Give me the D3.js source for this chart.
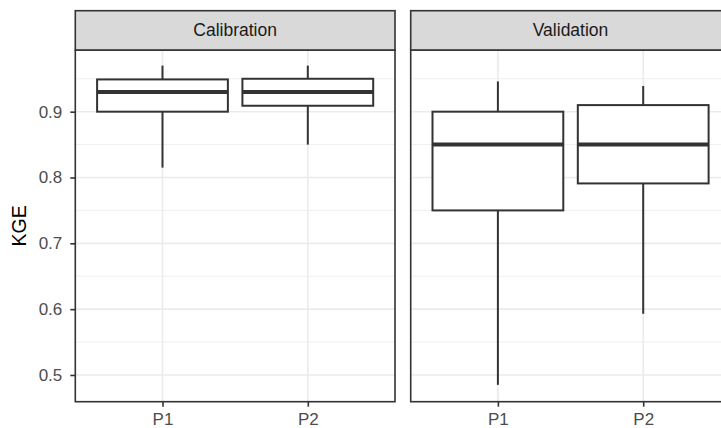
<!DOCTYPE html>
<html><head><meta charset="utf-8">
<script src="https://cdn.jsdelivr.net/npm/d3@7"></script>
<style>body{margin:0;background:#fff}svg{display:block;font-family:"Liberation Sans",Arial,sans-serif}</style>
</head><body>
<svg id="c" width="721" height="428"></svg>
<script>
const facets = ["Calibration", "Validation"];
const groups = ["P1", "P2"];
// [whiskerLow, q1, median, q3, whiskerHigh] per group
const calibrationStats = [[0.815, 0.900, 0.930, 0.949, 0.970], [0.850, 0.909, 0.930, 0.950, 0.970]];
const validationStats  = [[0.485, 0.750, 0.850, 0.900, 0.946], [0.593, 0.791, 0.850, 0.910, 0.939]];
const yTicks = [0.5, 0.6, 0.7, 0.8, 0.9];
const yMinor = [0.55, 0.65, 0.75, 0.85, 0.95];
const yTitle = "KGE";

(function () {
const statsByFacet = [calibrationStats, validationStats];
const svg = d3.select("#c");
const pTop = 50, pBottom = 401.7, stripTop = 10.7;
const panels = [[75.3, 395], [410.7, 730.4]];
const y = d3.scaleLinear().domain([0.4594, 0.9937]).range([pBottom, pTop]);
const dark = "#333333";
const FONT = "Liberation Sans, Arial, sans-serif";

facets.forEach((f, i) => {
  const [x0, x1] = panels[i];
  const xc = d3.scaleLinear().domain([0.4, 2.6]).range([x0, x1]);
  const unit = (x1 - x0) / 2.2;
  const g = svg.append("g");
  g.append("rect").attr("x", x0).attr("y", pTop).attr("width", x1 - x0).attr("height", pBottom - pTop).attr("fill", "#fff");
  g.selectAll(".mn").data(yMinor).enter().append("line")
    .attr("x1", x0).attr("x2", x1).attr("y1", d => y(d)).attr("y2", d => y(d))
    .attr("stroke", "#EBEBEB").attr("stroke-width", 0.8);
  g.selectAll(".mj").data(yTicks).enter().append("line")
    .attr("x1", x0).attr("x2", x1).attr("y1", d => y(d)).attr("y2", d => y(d))
    .attr("stroke", "#EBEBEB").attr("stroke-width", 1.6);
  g.selectAll(".vx").data(groups).enter().append("line")
    .attr("x1", (d, j) => xc(j + 1)).attr("x2", (d, j) => xc(j + 1)).attr("y1", pTop).attr("y2", pBottom)
    .attr("stroke", "#EBEBEB").attr("stroke-width", 1.6);
  const st = statsByFacet[i];
  groups.forEach((gname, j) => {
    const [lo, q1, med, q3, hi] = st[j];
    const cx = xc(j + 1), hw = 0.45 * unit;
    g.append("line").attr("x1", cx).attr("x2", cx).attr("y1", y(hi)).attr("y2", y(q3)).attr("stroke", dark).attr("stroke-width", 2);
    g.append("line").attr("x1", cx).attr("x2", cx).attr("y1", y(q1)).attr("y2", y(lo)).attr("stroke", dark).attr("stroke-width", 2);
    g.append("rect").attr("x", cx - hw).attr("y", y(q3)).attr("width", 2 * hw).attr("height", y(q1) - y(q3))
      .attr("fill", "#fff").attr("stroke", dark).attr("stroke-width", 2);
    g.append("line").attr("x1", cx - hw).attr("x2", cx + hw).attr("y1", y(med)).attr("y2", y(med)).attr("stroke", dark).attr("stroke-width", 4);
  });
  g.append("rect").attr("x", x0).attr("y", pTop).attr("width", x1 - x0).attr("height", pBottom - pTop)
    .attr("fill", "none").attr("stroke", dark).attr("stroke-width", 1.6);
  g.append("rect").attr("x", x0).attr("y", stripTop).attr("width", x1 - x0).attr("height", pTop - stripTop)
    .attr("fill", "#D9D9D9").attr("stroke", dark).attr("stroke-width", 1.6);
  g.append("text").attr("x", (x0 + x1) / 2).attr("y", (stripTop + pTop) / 2).attr("dy", "0.35em")
    .attr("text-anchor", "middle").attr("font-size", 17.5).attr("fill", "#1A1A1A").text(f);
  const xa = svg.append("g").attr("transform", `translate(0,${pBottom})`)
    .call(d3.axisBottom(d3.scalePoint().domain(groups).range([xc(1), xc(2)])).tickSizeInner(5).tickSizeOuter(0).tickPadding(6));
  xa.select(".domain").remove();
  xa.selectAll("line").attr("stroke", dark).attr("stroke-width", 1.6);
  xa.selectAll("text").attr("font-size", 17).attr("fill", "#4D4D4D").attr("font-family", FONT);
});
const ya = svg.append("g").attr("transform", `translate(${panels[0][0]},0)`)
  .call(d3.axisLeft(y).tickValues(yTicks).tickFormat(d3.format(".1f")).tickSizeInner(5).tickSizeOuter(0).tickPadding(8));
ya.select(".domain").remove();
ya.selectAll("line").attr("stroke", dark).attr("stroke-width", 1.6);
ya.selectAll("text").attr("font-size", 17).attr("fill", "#4D4D4D").attr("font-family", FONT);
svg.append("text").attr("transform", `translate(19,${(pTop + pBottom) / 2}) rotate(-90)`).attr("dy", "0.35em")
  .attr("text-anchor", "middle").attr("font-size", 19.5).attr("fill", "#000").attr("font-family", FONT).text(yTitle);
})();
</script>
</body></html>
